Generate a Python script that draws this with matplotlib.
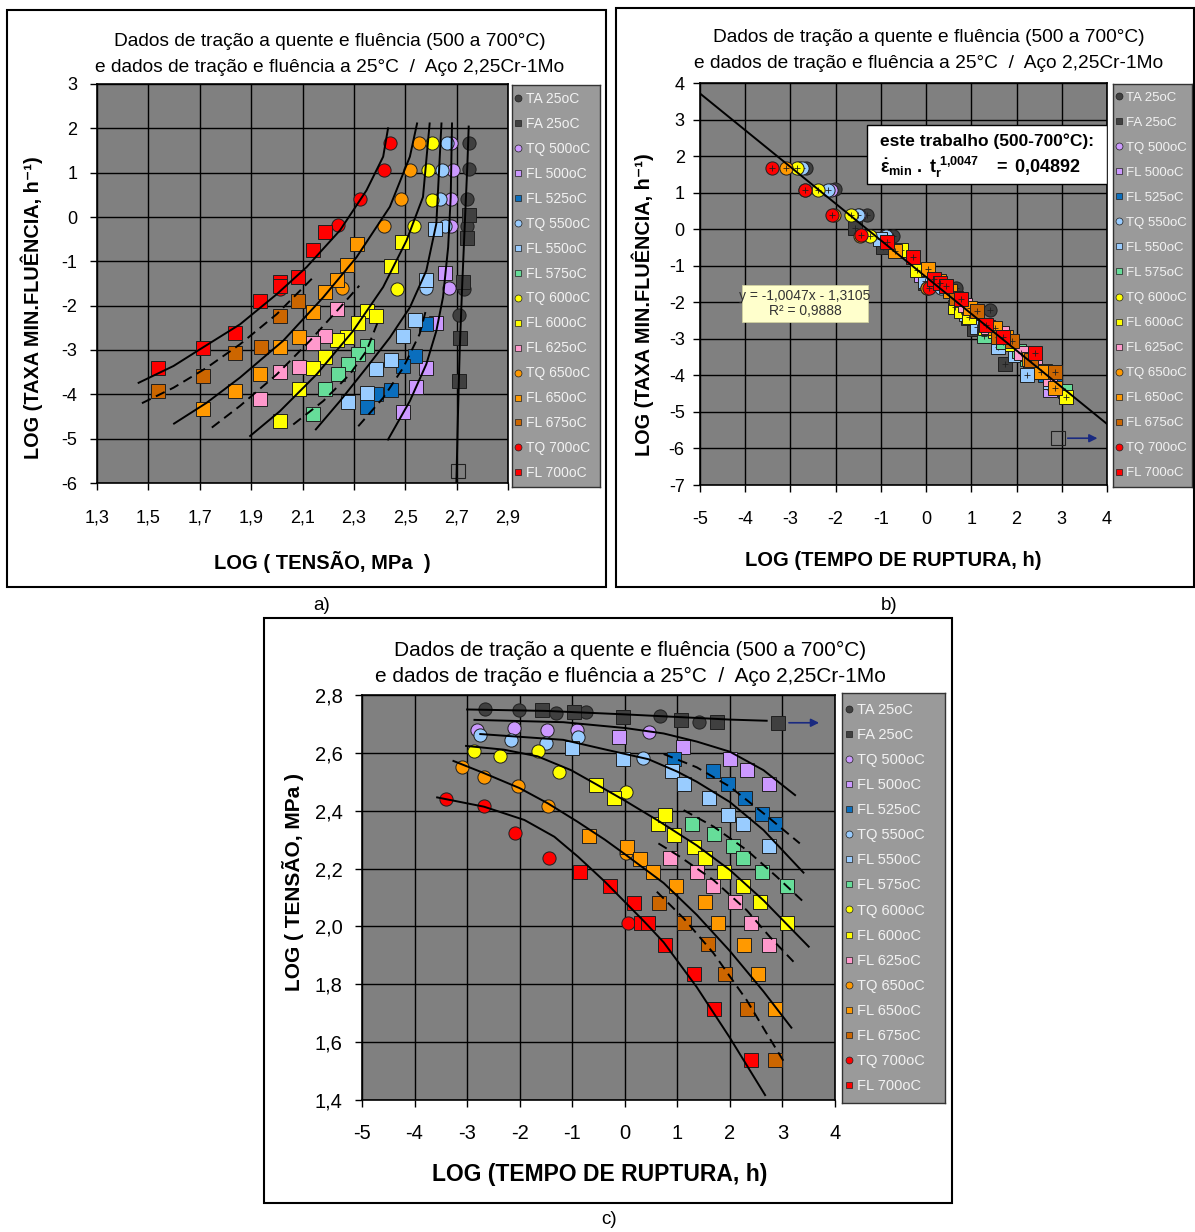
import numpy as np
import matplotlib
matplotlib.use("Agg")
import matplotlib.pyplot as plt
from matplotlib.lines import Line2D
from matplotlib.patches import Rectangle

plt.rcParams["font.family"] = ["Liberation Sans", "DejaVu Sans"]
plt.rcParams["mathtext.fontset"] = "custom"
plt.rcParams["mathtext.rm"] = "Liberation Sans"
plt.rcParams["mathtext.bf"] = "Liberation Sans:bold"
plt.rcParams["mathtext.it"] = "Liberation Sans:italic"

W, H = 1195, 1232
PLOT_BG = "#808080"
LEG_BG = "#9a9a9a"

TITLE_1 = "Dados de tração a quente e fluência (500 a 700°C)"
TITLE_2 = "e dados de tração e fluência a 25°C  /  Aço 2,25Cr-1Mo"

# each test: log stress (MPa), log rupture time (h), log min creep rate (1/h)
TA25_S = [2.750, 2.748, 2.739, 2.741, 2.727, 2.708]
TA25_T = [-2.66, -2.02, -1.31, -0.74, 0.67, 1.42]
TA25_R = [1.68, 1.09, 0.40, -0.20, -1.62, -2.22]

FA25_S = [2.748, 2.740, 2.723, 2.714, 2.708]
FA25_T = [-1.58, -0.96, -0.03, 1.07, 1.75]
FA25_R = [0.04, -0.48, -1.46, -2.72, -3.70]
# run-out test (no rupture, arrow)
FA25_RUN_S = [2.704]
FA25_RUN_T = [2.92]
FA25_RUN_R = [-5.72]

TQ500_S = [2.679, 2.687, 2.679, 2.679, 2.671]
TQ500_T = [-2.81, -2.10, -1.48, -0.91, 0.46]
TQ500_R = [1.68, 1.07, 0.40, -0.20, -1.60]

FL500_S = [2.654, 2.621, 2.579, 2.541, 2.492]
FL500_T = [-0.11, 1.10, 2.00, 2.33, 2.75]
FL500_R = [-1.26, -2.38, -3.40, -3.83, -4.40]

FL525_S = [2.579, 2.538, 2.491, 2.443, 2.387, 2.353]
FL525_T = [0.93, 1.67, 1.97, 2.29, 2.62, 2.86]
FL525_R = [-2.42, -3.13, -3.37, -3.91, -4.00, -4.28]

TQ550_S = [2.662, 2.644, 2.635, 2.654, 2.581]
TQ550_T = [-2.75, -2.16, -1.50, -0.89, 0.34]
TQ550_R = [1.68, 1.07, 0.40, -0.20, -1.60]

FL550_S = [2.616, 2.579, 2.538, 2.492, 2.443, 2.385, 2.353, 2.279]
FL550_T = [-1.01, -0.03, 0.89, 1.13, 1.60, 1.96, 2.24, 2.74]
FL550_R = [-0.28, -1.43, -2.32, -2.68, -3.23, -3.43, -3.98, -4.17]

FL575_S = [2.353, 2.318, 2.278, 2.237, 2.189, 2.141]
FL575_T = [1.27, 1.70, 2.05, 2.24, 2.62, 3.08]
FL575_R = [-2.91, -3.09, -3.32, -3.55, -3.89, -4.44]

TQ600_S = [2.606, 2.589, 2.606, 2.535, 2.466]
TQ600_T = [-2.86, -2.38, -1.66, -1.25, 0.02]
TQ600_R = [1.68, 1.07, 0.38, -0.20, -1.62]

FL600_S = [2.489, 2.443, 2.353, 2.385, 2.316, 2.275, 2.235, 2.189, 2.141, 2.085, 2.013]
FL600_T = [-0.55, -0.20, 0.64, 0.77, 0.94, 1.31, 1.53, 1.89, 2.24, 2.57, 3.09]
FL600_R = [-0.57, -1.11, -2.13, -2.24, -2.39, -2.70, -2.78, -3.15, -3.41, -3.89, -4.60]

FL625_S = [2.235, 2.189, 2.141, 2.085, 2.013, 1.935]
FL625_T = [0.86, 1.37, 1.67, 2.10, 2.40, 2.75]
FL625_R = [-2.08, -2.68, -2.85, -3.38, -3.49, -4.10]

TQ650_S = [2.552, 2.518, 2.485, 2.416, 2.255]
TQ650_T = [-3.09, -2.67, -2.03, -1.47, 0.02]
TQ650_R = [1.68, 1.07, 0.40, -0.20, -1.60]

FL650_S = [2.313, 2.275, 2.233, 2.189, 2.141, 2.085, 2.013, 1.935, 1.837, 1.714]
FL650_T = [-0.69, 0.05, 0.29, 0.53, 0.98, 1.53, 1.77, 2.27, 2.54, 2.85]
FL650_R = [-0.60, -1.09, -1.43, -1.70, -2.15, -2.70, -2.94, -3.55, -3.92, -4.34]

FL675_S = [2.082, 2.013, 1.938, 1.837, 1.714, 1.538]
FL675_T = [0.65, 1.12, 1.59, 1.91, 2.32, 2.85]
FL675_R = [-1.89, -2.23, -2.94, -3.06, -3.58, -3.92]

TQ700_S = [2.439, 2.416, 2.322, 2.237, 2.013]
TQ700_T = [-3.40, -2.67, -2.08, -1.44, 0.06]
TQ700_R = [1.68, 1.07, 0.40, -0.17, -1.62]

FL700_S = [2.189, 2.141, 2.082, 2.013, 2.013, 1.935, 1.837, 1.714, 1.538]
FL700_T = [-0.86, -0.29, 0.18, 0.31, 0.44, 0.77, 1.32, 1.70, 2.40]
FL700_R = [-0.34, -0.75, -1.36, -1.47, -1.55, -1.90, -2.62, -2.96, -3.40]

SERIES = [
    ("TA 25oC", "o", "#404040", TA25_S, TA25_T, TA25_R),
    ("FA 25oC", "s", "#404040", FA25_S, FA25_T, FA25_R),
    ("TQ 500oC", "o", "#cc99ff", TQ500_S, TQ500_T, TQ500_R),
    ("FL 500oC", "s", "#cc99ff", FL500_S, FL500_T, FL500_R),
    ("FL 525oC", "s", "#0a6ebd", FL525_S, FL525_T, FL525_R),
    ("TQ 550oC", "o", "#99ccff", TQ550_S, TQ550_T, TQ550_R),
    ("FL 550oC", "s", "#99ccff", FL550_S, FL550_T, FL550_R),
    ("FL 575oC", "s", "#66dd99", FL575_S, FL575_T, FL575_R),
    ("TQ 600oC", "o", "#ffff00", TQ600_S, TQ600_T, TQ600_R),
    ("FL 600oC", "s", "#ffff00", FL600_S, FL600_T, FL600_R),
    ("FL 625oC", "s", "#ff99cc", FL625_S, FL625_T, FL625_R),
    ("TQ 650oC", "o", "#ff9900", TQ650_S, TQ650_T, TQ650_R),
    ("FL 650oC", "s", "#ff9900", FL650_S, FL650_T, FL650_R),
    ("FL 675oC", "s", "#cc6600", FL675_S, FL675_T, FL675_R),
    ("TQ 700oC", "o", "#ff0000", TQ700_S, TQ700_T, TQ700_R),
    ("FL 700oC", "s", "#ff0000", FL700_S, FL700_T, FL700_R),
]

# trend curves of panel a: (log stress, log rate)
A_C25 = ([2.699, 2.705, 2.712, 2.722, 2.733, 2.742, 2.747], [-6.0, -4.5, -3.0, -1.5, 0.0, 1.2, 2.04], "-")
A_C500 = ([2.433, 2.518, 2.582, 2.621, 2.647, 2.667, 2.677, 2.682], [-5.02, -4.15, -3.32, -2.57, -1.81, -0.68, 0.45, 2.11], "-")
A_C550 = ([2.152, 2.246, 2.349, 2.440, 2.518, 2.582, 2.621, 2.641], [-4.79, -4.15, -3.40, -2.72, -2.04, -1.21, -0.15, 2.11], "-")
A_C600 = ([1.896, 2.012, 2.155, 2.297, 2.414, 2.505, 2.569, 2.595], [-4.94, -4.38, -3.55, -2.57, -1.58, -0.53, 0.45, 2.11], "-")
A_C650 = ([1.600, 1.727, 1.857, 2.025, 2.181, 2.310, 2.440, 2.518, 2.546], [-4.66, -4.19, -3.62, -2.79, -1.81, -0.91, 0.23, 1.36, 2.11], "-")
A_C700 = ([1.462, 1.598, 1.702, 1.857, 2.000, 2.116, 2.246, 2.349, 2.414, 2.433], [-3.74, -3.36, -2.98, -2.42, -1.74, -1.13, -0.30, 0.60, 1.36, 2.00], "-")
A_C525 = ([2.317, 2.414, 2.492, 2.556, 2.580], [-4.72, -4.08, -3.40, -2.64, -2.11], "--")
A_C575 = ([2.064, 2.181, 2.284, 2.349, 2.395], [-4.68, -4.15, -3.55, -3.02, -2.34], "--")
A_C625 = ([1.747, 1.857, 2.000, 2.129, 2.246, 2.321], [-4.75, -4.26, -3.55, -2.79, -2.04, -1.55], "--")
A_C675 = ([1.475, 1.598, 1.727, 1.857, 2.000, 2.142], [-4.20, -3.85, -3.40, -2.87, -2.19, -1.36], "--")
A_CURVES = [A_C25, A_C500, A_C550, A_C600, A_C650, A_C700, A_C525, A_C575, A_C625, A_C675]

# trend curves of panel c: (log time, log stress)
C_C25 = ([-3.0, -1.5, 0.0, 1.0, 2.0, 2.7], [2.750, 2.745, 2.733, 2.724, 2.715, 2.711], "-")
C_C500 = ([-2.86, -1.17, 0.0, 0.74, 1.37, 2.0, 2.64, 3.24],
          [2.714, 2.706, 2.686, 2.667, 2.639, 2.604, 2.540, 2.454], "-")
C_C550 = ([-2.75, -1.17, -0.38, 0.45, 1.0, 1.37, 2.0, 2.64, 3.40],
          [2.665, 2.645, 2.612, 2.578, 2.535, 2.500, 2.430, 2.333, 2.186], "-")
C_C600 = ([-3.02, -2.3, -1.66, -1.02, -0.55, 0.0, 0.64, 1.37, 2.0, 2.64, 3.50],
          [2.624, 2.611, 2.588, 2.540, 2.492, 2.435, 2.365, 2.280, 2.195, 2.090, 1.930], "-")
C_C650 = ([-3.26, -2.68, -2.0, -1.46, -0.9, -0.38, 0.0, 0.74, 1.37, 2.0, 2.64, 3.17],
          [2.572, 2.530, 2.478, 2.425, 2.362, 2.300, 2.250, 2.150, 2.040, 1.915, 1.775, 1.650], "-")
C_C700 = ([-3.57, -2.68, -1.91, -1.34, -0.89, -0.38, 0.0, 0.38, 0.74, 1.37, 2.0, 2.67],
          [2.446, 2.414, 2.368, 2.310, 2.241, 2.155, 2.085, 2.015, 1.945, 1.790, 1.615, 1.417], "-")
C_C525 = ([0.74, 1.37, 2.0, 2.64, 3.33], [2.596, 2.550, 2.483, 2.391, 2.287], "--")
C_C575 = ([1.12, 1.69, 2.32, 2.89, 3.40], [2.402, 2.345, 2.264, 2.172, 2.085], "--")
C_C625 = ([0.64, 1.05, 1.69, 2.32, 2.76, 3.21], [2.287, 2.241, 2.160, 2.056, 1.964, 1.878], "--")
C_C675 = ([0.61, 1.12, 1.69, 2.32, 2.70, 3.05], [2.120, 2.028, 1.907, 1.745, 1.630, 1.526], "--")
C_CURVES = [C_C25, C_C500, C_C550, C_C600, C_C650, C_C700, C_C525, C_C575, C_C625, C_C675]

# Monkman-Grant fit shown in panel b
MG_SLOPE = -1.0047
MG_INTERCEPT = -1.3105
MG_X = [-5.0, 4.0]

A_XTICKS = [1.3, 1.5, 1.7, 1.9, 2.1, 2.3, 2.5, 2.7, 2.9]
A_YTICKS = [-6, -5, -4, -3, -2, -1, 0, 1, 2, 3]
B_XTICKS = [-5, -4, -3, -2, -1, 0, 1, 2, 3, 4]
B_YTICKS = [-7, -6, -5, -4, -3, -2, -1, 0, 1, 2, 3, 4]
C_XTICKS = [-5, -4, -3, -2, -1, 0, 1, 2, 3, 4]
C_YTICKS = [1.4, 1.6, 1.8, 2.0, 2.2, 2.4, 2.6, 2.8]


def rect(x0, y0, x1, y1):
    return [x0 / W, 1 - y1 / H, (x1 - x0) / W, (y1 - y0) / H]


def comma(vals, fmt):
    return [fmt.format(v).replace(".", ",") for v in vals]


def style_axes(ax, xticks, yticks, xfmt, yfmt, xpad, ypad, size):
    ax.set_facecolor(PLOT_BG)
    ax.set_axisbelow(True)
    ax.set_xticks(xticks)
    ax.set_yticks(yticks)
    ax.set_xticklabels(comma(xticks, xfmt))
    ax.set_yticklabels(comma(yticks, yfmt))
    ax.set_xlim(xticks[0], xticks[-1])
    ax.set_ylim(yticks[0], yticks[-1])
    ax.grid(True, color="black", lw=1.0)
    ax.tick_params(axis="both", direction="out", length=5, width=1, labelsize=size)
    ax.tick_params(axis="x", pad=xpad)
    ax.tick_params(axis="y", pad=ypad)
    for sp in ax.spines.values():
        sp.set_color("black")
        sp.set_linewidth(1.2)


def draw_points(ax, xi, yi, crosses=False):
    for label, mk, col, s, t, r in SERIES:
        d = {"S": s, "T": t, "R": r}
        ax.plot(d[xi], d[yi], ls="none", marker=mk, ms=9.5, mfc=col, mec="#202020",
                mew=0.7, zorder=3)
        if crosses:
            ax.plot(d[xi], d[yi], ls="none", marker="+", ms=4, color="#202020",
                    mew=0.6, zorder=3)


def draw_curves(ax, curves):
    for cx, cy, ls in curves:
        ax.plot(cx, cy, color="black", lw=1.4, ls=ls,
                dashes=(5, 3) if ls == "--" else (None, None), zorder=4)


def draw_legend(rect_px, size, spacing):
    lax = fig.add_axes(rect(*rect_px))
    lax.set_facecolor(LEG_BG)
    lax.set_xticks([])
    lax.set_yticks([])
    for sp in lax.spines.values():
        sp.set_color("#333333")
        sp.set_linewidth(1.0)
    handles = [Line2D([], [], ls="none", marker=mk, ms=5, mfc=col, mec="#202020", mew=0.5)
               for _, mk, col, *_ in SERIES]
    labels = [s[0] for s in SERIES]
    lax.legend(handles, labels, loc="center left", bbox_to_anchor=(0.0, 0.5), frameon=False,
               fontsize=size, labelspacing=spacing, handlelength=0.6, handletextpad=0.25,
               borderpad=0.0, borderaxespad=0.15, labelcolor="#f2f2f2")


def titles(xc, y1, y2, size):
    fig.text(xc / W, 1 - y1 / H, TITLE_1, ha="center", va="center", fontsize=size)
    fig.text(xc / W, 1 - y2 / H, TITLE_2, ha="center", va="center", fontsize=size)


fig = plt.figure(figsize=(W / 100, H / 100), dpi=100)

# panel frames
for x0, y0, x1, y1 in [(7, 10, 606, 587), (616, 8, 1194, 587), (264, 618, 952, 1203)]:
    fig.patches.append(Rectangle((x0 / W, 1 - y1 / H), (x1 - x0) / W, (y1 - y0) / H,
                                 transform=fig.transFigure, fill=False, ec="black", lw=1.5))

# ---------------- panel a ----------------
ax_a = fig.add_axes(rect(97, 84, 508, 483))
style_axes(ax_a, A_XTICKS, A_YTICKS, "{:.1f}", "{:.0f}", 14, 9, 13)
draw_points(ax_a, "S", "R")
ax_a.plot(FA25_RUN_S, FA25_RUN_R, ls="none", marker="s", ms=9.5, mfc="none", mec="#202020",
          mew=0.8, zorder=3)
draw_curves(ax_a, A_CURVES)
draw_legend((512, 85, 600, 487), 10, 0.79)
titles(330, 42, 67, 13.8)
fig.text(32 / W, 1 - 308 / H, "LOG (TAXA MIN.FLUÊNCIA, h⁻¹)", rotation=90, ha="center",
         va="center", fontsize=14.3, fontweight="bold")
fig.text(322 / W, 1 - 562 / H, "LOG ( TENSÃO, MPa  )", ha="center", va="center",
         fontsize=14.5, fontweight="bold")
fig.text(322 / W, 1 - 606 / H, "a)", ha="center", va="center", fontsize=13.5)

# ---------------- panel b ----------------
ax_b = fig.add_axes(rect(700, 83, 1107, 485))
style_axes(ax_b, B_XTICKS, B_YTICKS, "{:.0f}", "{:.0f}", 14, 6, 13)
draw_points(ax_b, "T", "R", crosses=True)
ax_b.plot(FA25_RUN_T, FA25_RUN_R, ls="none", marker="s", ms=9.5, mfc="none", mec="#202020",
          mew=0.8, zorder=3)
mg_y = [MG_SLOPE * x + MG_INTERCEPT for x in MG_X]
ax_b.plot(MG_X, mg_y, color="black", lw=1.4, zorder=4)
ax_b.annotate("", xy=(3.85, FA25_RUN_R[0]), xytext=(FA25_RUN_T[0] + 0.15, FA25_RUN_R[0]),
              arrowprops=dict(arrowstyle="-|>", color="#1a2a80", lw=1.2, mutation_scale=12),
              zorder=5)
ax_b.add_patch(Rectangle((0.41, 0.749), 0.59, 0.147, transform=ax_b.transAxes,
                         fc="white", ec="black", lw=1.0, zorder=6))
ax_b.text(0.705, 0.855, "este trabalho (500-700°C):", transform=ax_b.transAxes, ha="center",
          va="center", fontsize=12.5, fontweight="bold", zorder=7)
ax_b.text(0.69, 0.79, r"$\mathbf{\dot{\varepsilon}_{min}\ .\ t_r^{\ 1{,}0047}\ \ \ =\ 0{,}04892}$",
          transform=ax_b.transAxes, ha="center", va="center", fontsize=13, zorder=7)
ax_b.add_patch(Rectangle((0.103, 0.405), 0.31, 0.093, transform=ax_b.transAxes,
                         fc="#ffffcc", ec="#d0d0a0", lw=0.6, zorder=6))
ax_b.text(0.258, 0.47, "y = -1,0047x - 1,3105", transform=ax_b.transAxes, ha="center",
          va="center", fontsize=10, color="#333333", zorder=7)
ax_b.text(0.258, 0.432, "R² = 0,9888", transform=ax_b.transAxes, ha="center",
          va="center", fontsize=10, color="#333333", zorder=7)
draw_legend((1113, 84, 1192, 487), 9.5, 0.97)
titles(929, 38, 63, 13.8)
fig.text(643 / W, 1 - 305 / H, "LOG (TAXA MIN.FLUÊNCIA, h⁻¹)", rotation=90, ha="center",
         va="center", fontsize=14.3, fontweight="bold")
fig.text(893 / W, 1 - 560 / H, "LOG (TEMPO DE RUPTURA, h)", ha="center", va="center",
         fontsize=14.5, fontweight="bold")
fig.text(889 / W, 1 - 606 / H, "b)", ha="center", va="center", fontsize=13.5)

# ---------------- panel c ----------------
ax_c = fig.add_axes(rect(362, 695, 835, 1100))
style_axes(ax_c, C_XTICKS, C_YTICKS, "{:.0f}", "{:.1f}", 12, 9, 14.5)
draw_points(ax_c, "T", "S")
ax_c.plot(FA25_RUN_T, FA25_RUN_S, ls="none", marker="s", ms=9.5, mfc="#404040", mec="#202020",
          mew=0.7, zorder=3)
ax_c.annotate("", xy=(3.75, FA25_RUN_S[0]), xytext=(FA25_RUN_T[0] + 0.15, FA25_RUN_S[0]),
              arrowprops=dict(arrowstyle="-|>", color="#1a2a80", lw=1.2, mutation_scale=12),
              zorder=5)
draw_curves(ax_c, C_CURVES)
draw_legend((842, 693, 945, 1103), 10.5, 0.76)
titles(630, 650, 676, 15)
fig.text(293 / W, 1 - 882 / H, "LOG ( TENSÃO, MPa )", rotation=90, ha="center",
         va="center", fontsize=15, fontweight="bold")
fig.text(600 / W, 1 - 1175 / H, "LOG (TEMPO DE RUPTURA, h)", ha="center", va="center",
         fontsize=16.5, fontweight="bold")
fig.text(609 / W, 1 - 1220 / H, "c)", ha="center", va="center", fontsize=13.5)

fig.savefig("out.png", dpi=100)
